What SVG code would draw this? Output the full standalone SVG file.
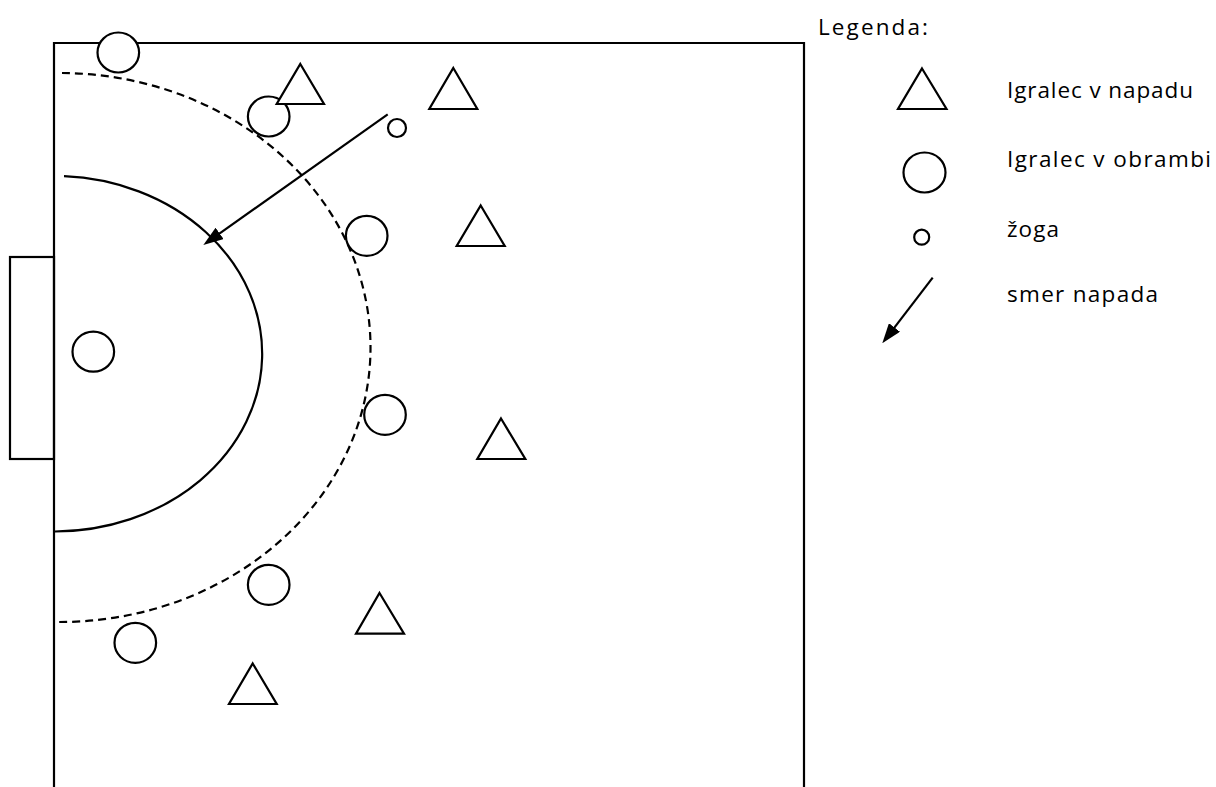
<svg xmlns="http://www.w3.org/2000/svg" width="1216" height="787" viewBox="0 0 1216 787">
<style>
.ln{fill:none;stroke:#000;stroke-width:2.2}
.dash{fill:none;stroke:#000;stroke-width:2.2;stroke-dasharray:8 5}
.pl{fill:#fff;stroke:#000;stroke-width:2.2}
.tx{font-family:"Open Sans","Liberation Sans",Arial,sans-serif;font-size:22.5px;fill:#000}
</style>
<defs>
<marker id="ah" viewBox="0 0 20 14" refX="9" refY="7" markerWidth="20" markerHeight="14" markerUnits="userSpaceOnUse" orient="auto">
<path d="M0,0 L20,7 L0,14 z" fill="#000"/>
</marker>
</defs>
<rect width="1216" height="787" fill="#fff"/>
<g id="court">
<path class="ln" d="M54,787 V43 H804 V787"/>
<rect class="ln" x="10" y="257" width="44" height="202"/>
<path class="ln" d="M64,176.2 A208,177.75 0 0 1 55,531.5"/>
<path class="dash" d="M62,73 A311,274.5 0 0 1 57,622"/>
</g>
<g id="connectors">
<line class="ln" x1="387.7" y1="114.3" x2="212.3" y2="238.6" marker-end="url(#ah)"/>
</g>
<g id="defenders">
<ellipse id="d1" class="pl" cx="118.3" cy="52.5" rx="20.8" ry="20"/>
<ellipse id="d2" class="pl" cx="268.7" cy="116.5" rx="20.8" ry="20"/>
<ellipse id="d3" class="pl" cx="366.7" cy="235.8" rx="20.8" ry="20"/>
<ellipse id="gk" class="pl" cx="93.3" cy="351.7" rx="20.8" ry="20"/>
<ellipse id="d5" class="pl" cx="385" cy="414.8" rx="20.8" ry="20"/>
<ellipse id="d6" class="pl" cx="268.7" cy="584.8" rx="20.8" ry="20"/>
<ellipse id="d7" class="pl" cx="135.3" cy="642.8" rx="20.8" ry="20"/>
</g>
<g id="attackers">
<polygon id="a1" class="pl" points="300.3,64 324,104 276.7,104"/>
<polygon id="a2" class="pl" points="453.3,68 477.3,109 429.3,109"/>
<polygon id="a3" class="pl" points="480.7,205.5 504.7,246 456.7,246"/>
<polygon id="a4" class="pl" points="501,418.5 525.3,459 477.3,459"/>
<polygon id="a5" class="pl" points="379.5,593 404,633.7 356,633.7"/>
<polygon id="a6" class="pl" points="252.7,663.5 276.7,704 229,704"/>
</g>
<g id="ball">
<circle class="pl" cx="397" cy="128" r="9"/>
</g>
<g id="legend">
<text class="tx" x="818" y="35" textLength="110" lengthAdjust="spacing">Legenda:</text>
<polygon class="pl" points="922,68.5 946.5,109 898,109"/>
<text class="tx" x="1007" y="98" textLength="186" lengthAdjust="spacing">Igralec v napadu</text>
<ellipse class="pl" cx="924.5" cy="172.5" rx="21" ry="20"/>
<text class="tx" x="1007" y="166.5" textLength="204" lengthAdjust="spacing">Igralec v obrambi</text>
<circle class="pl" cx="921.7" cy="237.2" r="7.5"/>
<text class="tx" x="1007" y="236.5" textLength="52" lengthAdjust="spacing">žoga</text>
<line class="ln" x1="932.7" y1="277.7" x2="889" y2="334.6" marker-end="url(#ah)"/>
<text class="tx" x="1007" y="301.5" textLength="151" lengthAdjust="spacing">smer napada</text>
</g>
</svg>
